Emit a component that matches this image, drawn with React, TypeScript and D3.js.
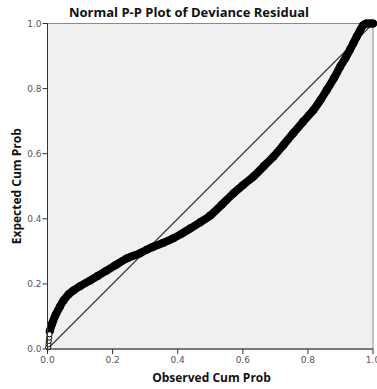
import React from "react";
import * as d3 from "d3";

const title = "Normal P-P Plot of Deviance Residual";
const xTitle = "Observed Cum Prob";
const yTitle = "Expected Cum Prob";
const tickValues = [0, 0.2, 0.4, 0.6, 0.8, 1.0];

// lower-left points drawn as separate hollow circles
const observedLow = [0.002, 0.003, 0.004, 0.005, 0.006];
const expectedLow = [0.005, 0.015, 0.025, 0.035, 0.045];

// dense trail of cases (observed cum prob, expected cum prob)
const observed = [
  0.007, 0.015, 0.025, 0.038, 0.05, 0.065, 0.08, 0.1, 0.13, 0.155, 0.18, 0.21,
  0.243, 0.265, 0.284, 0.305, 0.325, 0.355, 0.386, 0.41, 0.438, 0.47, 0.5,
  0.535, 0.571, 0.6, 0.632, 0.665, 0.694, 0.725, 0.755, 0.785, 0.817, 0.84,
  0.858, 0.88, 0.899, 0.915, 0.929, 0.94, 0.95, 0.96, 0.97, 0.98, 0.99, 1.0,
];
const expected = [
  0.055, 0.08, 0.105, 0.13, 0.15, 0.168, 0.18, 0.193, 0.21, 0.225, 0.24, 0.258,
  0.278, 0.287, 0.294, 0.305, 0.314, 0.326, 0.34, 0.353, 0.37, 0.39, 0.41,
  0.443, 0.478, 0.503, 0.529, 0.562, 0.591, 0.627, 0.663, 0.698, 0.734, 0.767,
  0.796, 0.832, 0.867, 0.893, 0.919, 0.94, 0.96, 0.978, 0.995, 1.0, 1.0, 1.0,
];

const W = 377;
const H = 389;
const left = 47.5;
const right = 373;
const top = 23.5;
const bottom = 349;

export default function App() {
  const x = d3.scaleLinear().domain([0, 1]).range([left, right]);
  const y = d3.scaleLinear().domain([0, 1]).range([bottom, top]);
  const pts: [number, number][] = observed.map((o, i) => [o, expected[i]]);
  const line = d3
    .line<[number, number]>()
    .x((d) => x(d[0]))
    .y((d) => y(d[1]))
    .curve(d3.curveCatmullRom);
  const font = "'DejaVu Sans', sans-serif";
  const labelFont = "'Open Sans', sans-serif";
  return (
    <svg
      width={W}
      height={H}
      style={{ position: "absolute", left: 0, top: 0, background: "#fff" }}
    >
      <rect x={left} y={top} width={right - left} height={bottom - top} fill="#f0f0f0" stroke="#8a8a8a" strokeWidth={1} />
      <line x1={x(0)} y1={y(0)} x2={x(1)} y2={y(1)} stroke="#333" strokeWidth={1.1} />
      <path d={line(pts) || ""} fill="none" stroke="#000" strokeWidth={8} strokeLinecap="round" strokeLinejoin="round" />
      {pts.map((p, i) => (
        <circle key={"c" + i} cx={x(p[0])} cy={y(p[1])} r={3.2} fill="none" stroke="#000" strokeWidth={1.5} />
      ))}
      {observedLow.map((o, i) => (
        <circle key={"l" + i} cx={x(o)} cy={y(expectedLow[i])} r={2.6} fill="#fff" stroke="#000" strokeWidth={1} />
      ))}
      {/* axes */}
      <line x1={left} y1={top} x2={left} y2={bottom} stroke="#333" strokeWidth={1} />
      <line x1={left} y1={bottom} x2={right} y2={bottom} stroke="#333" strokeWidth={1} />
      {tickValues.map((t) => (
        <g key={"x" + t}>
          <line x1={x(t)} x2={x(t)} y1={bottom} y2={bottom + 5} stroke="#333" />
          <text x={x(t)} y={363} textAnchor="middle" fontFamily={font} fontSize={9} fill="#555">
            {d3.format(".1f")(t)}
          </text>
        </g>
      ))}
      {tickValues.map((t) => (
        <g key={"y" + t}>
          <line x1={left - 5} x2={left} y1={y(t)} y2={y(t)} stroke="#333" />
          <text x={left - 6} y={y(t) + 3.2} textAnchor="end" fontFamily={font} fontSize={9} fill="#555">
            {d3.format(".1f")(t)}
          </text>
        </g>
      ))}
      <text x={189} y={17} textAnchor="middle" fontFamily={labelFont} fontWeight="bold" fontSize={13} fill="#111">
        {title}
      </text>
      <text x={211.5} y={381.5} textAnchor="middle" fontFamily={labelFont} fontWeight="bold" fontSize={12} fill="#111">
        {xTitle}
      </text>
      <text
        transform={`translate(21,${(top + bottom) / 2}) rotate(-90)`}
        textAnchor="middle"
        fontFamily={labelFont}
        fontWeight="bold"
        fontSize={12}
        fill="#111"
      >
        {yTitle}
      </text>
    </svg>
  );
}
